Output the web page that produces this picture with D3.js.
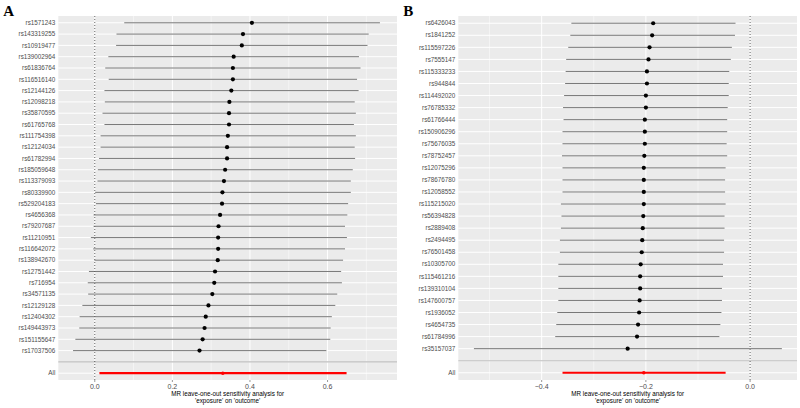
<!DOCTYPE html>
<html>
<head>
<meta charset="utf-8">
<script src="https://cdn.jsdelivr.net/npm/d3@7"></script>
<style>
body { margin: 0; background: #fff; }
svg text { font-family: "Liberation Sans", Arial, sans-serif; }
</style>
</head>
<body>
<div id="chart"></div>
<script>
var width = 800,
height = 408;

// Panel A data
var snpsA = ["rs1571243", "rs143319255", "rs10919477", "rs139002964", "rs61836764", "rs116516140",
    "rs12144126", "rs12098218", "rs35870595", "rs61765768", "rs111754398", "rs12124034",
    "rs61782994", "rs185059648", "rs113379093", "rs80339900", "rs529204183", "rs4656368",
    "rs79207687", "rs11210951", "rs116642072", "rs138942670", "rs12751442", "rs716954",
    "rs34571135", "rs12129128", "rs12404302", "rs149443973", "rs151155647", "rs17037506", "All"]
var bA = [0.405, 0.382, 0.379, 0.358, 0.356, 0.356, 0.352, 0.347, 0.346, 0.346, 0.343, 0.341,
    0.341, 0.336, 0.333, 0.329, 0.328, 0.323, 0.319, 0.318, 0.318, 0.317, 0.310, 0.308,
    0.303, 0.293, 0.286, 0.283, 0.278, 0.270, 0.330]
var loA = [0.076, 0.056, 0.055, 0.035, 0.027, 0.036, 0.025, 0.026, 0.020, 0.025, 0.015, 0.015,
    0.011, 0.008, 0.007, 0.001, 0.003, -0.003, -0.003, -0.010, -0.004, -0.001, -0.015, -0.018,
    -0.017, -0.032, -0.039, -0.040, -0.050, -0.056, 0.012]
var upA = [0.735, 0.706, 0.703, 0.681, 0.685, 0.676, 0.680, 0.670, 0.673, 0.668, 0.673, 0.670,
    0.671, 0.665, 0.660, 0.660, 0.653, 0.651, 0.645, 0.650, 0.645, 0.640, 0.635, 0.637,
    0.625, 0.620, 0.611, 0.608, 0.607, 0.597, 0.649]
var ticksA = [0, 0.2, 0.4, 0.6]
var minorA = [0.1, 0.3, 0.5, 0.7]

// Panel B data
var snpsB = ["rs6426043", "rs1841252", "rs115597226", "rs7555147", "rs115333233", "rs944844",
    "rs114492020", "rs76785332", "rs61766444", "rs150906296", "rs75676035", "rs78752457",
    "rs12075296", "rs78676780", "rs12058552", "rs115215020", "rs56394828", "rs2889408",
    "rs2494495", "rs76501458", "rs10305700", "rs115461216", "rs139310104", "rs147600757",
    "rs1936052", "rs4654735", "rs61784996", "rs35157037", "All"]
var bB = [-0.186, -0.188, -0.193, -0.195, -0.198, -0.198, -0.200, -0.200, -0.202, -0.202, -0.202,
    -0.203, -0.204, -0.204, -0.204, -0.204, -0.205, -0.206, -0.207, -0.208, -0.210, -0.211,
    -0.211, -0.212, -0.213, -0.215, -0.217, -0.235, -0.204]
var loB = [-0.343, -0.345, -0.349, -0.353, -0.354, -0.355, -0.357, -0.359, -0.358, -0.360, -0.360,
    -0.361, -0.360, -0.360, -0.360, -0.363, -0.362, -0.363, -0.365, -0.365, -0.368, -0.368,
    -0.368, -0.368, -0.370, -0.372, -0.374, -0.530, -0.360]
var upB = [-0.028, -0.029, -0.035, -0.037, -0.040, -0.041, -0.041, -0.043, -0.044, -0.044, -0.045,
    -0.044, -0.047, -0.048, -0.048, -0.047, -0.049, -0.049, -0.050, -0.050, -0.052, -0.052,
    -0.054, -0.054, -0.055, -0.057, -0.059, 0.061, -0.047]
var ticksB = [-0.4, -0.2, 0]
var minorB = [-0.5, -0.3, -0.1]

var svg = d3.select("#chart").append("svg")
.attr("width", width)
.attr("height", height)

function drawPanel(letter, left, right, xdomain, snps, b, lo, up, ticks, minor) {
    var top = 16,
    bottom = 380;

    var g = svg.append("g")

    var x = d3.scaleLinear().domain(xdomain).range([left, right])

    // rows: snps, then an empty row, then All
    var rows = snps.slice(0, snps.length - 1).concat(["", "All"])
    var y = d3.scalePoint().domain(rows).range([top, bottom]).padding(0.6)

    g.append("rect")
    .attr("x", left).attr("y", top)
    .attr("width", right - left).attr("height", bottom - top)
    .attr("fill", "#EBEBEB")

    g.selectAll(".minor")
    .data(minor)
    .join("line")
    .attr("x1", function (d) { return x(d) })
    .attr("x2", function (d) { return x(d) })
    .attr("y1", top).attr("y2", bottom)
    .attr("stroke", "#fff").attr("stroke-width", 0.5)

    g.selectAll(".vgrid")
    .data(ticks)
    .join("line")
    .attr("x1", function (d) { return x(d) })
    .attr("x2", function (d) { return x(d) })
    .attr("y1", top).attr("y2", bottom)
    .attr("stroke", "#fff").attr("stroke-width", 1)

    g.selectAll(".hgrid")
    .data(rows)
    .join("line")
    .attr("x1", left).attr("x2", right)
    .attr("y1", function (d) { return y(d) })
    .attr("y2", function (d) { return y(d) })
    .attr("stroke", "#fff").attr("stroke-width", 1)

    // grey line at the empty row
    g.append("line")
    .attr("x1", left).attr("x2", right)
    .attr("y1", y("")).attr("y2", y(""))
    .attr("stroke", "#BEBEBE").attr("stroke-width", 1.1)

    // dotted line at zero
    g.append("line")
    .attr("x1", x(0)).attr("x2", x(0))
    .attr("y1", top).attr("y2", bottom)
    .attr("stroke", "#000").attr("stroke-width", 0.6)
    .attr("stroke-dasharray", "1,2")

    var data = snps.map(function (s, i) {
        return { snp: s, b: b[i], lo: lo[i], up: up[i] }
    })

    g.selectAll(".ci")
    .data(data)
    .join("line")
    .attr("x1", function (d) { return x(d.lo) })
    .attr("x2", function (d) { return x(d.up) })
    .attr("y1", function (d) { return y(d.snp) })
    .attr("y2", function (d) { return y(d.snp) })
    .attr("stroke", function (d) { return d.snp === "All" ? "#FF0000" : "#555" })
    .attr("stroke-width", function (d) { return d.snp === "All" ? 2.2 : 0.8 })

    g.selectAll(".pt")
    .data(data)
    .join("circle")
    .attr("cx", function (d) { return x(d.b) })
    .attr("cy", function (d) { return y(d.snp) })
    .attr("r", function (d) { return d.snp === "All" ? 1.8 : 2.1 })
    .attr("fill", function (d) { return d.snp === "All" ? "#FF0000" : "#000" })

    // y labels
    g.selectAll(".ylab")
    .data(rows.filter(function (d) { return d !== "" }))
    .join("text")
    .attr("x", left - 3)
    .attr("y", function (d) { return y(d) })
    .attr("dy", "0.35em")
    .attr("text-anchor", "end")
    .attr("font-size", 6.3)
    .attr("fill", "#4D4D4D")
    .text(function (d) { return d })

    // x ticks
    g.selectAll(".xtick")
    .data(ticks)
    .join("line")
    .attr("x1", function (d) { return x(d) })
    .attr("x2", function (d) { return x(d) })
    .attr("y1", bottom).attr("y2", bottom + 2)
    .attr("stroke", "#333").attr("stroke-width", 0.5)

    g.selectAll(".xlab")
    .data(ticks)
    .join("text")
    .attr("x", function (d) { return x(d) })
    .attr("y", 388.5)
    .attr("text-anchor", "middle")
    .attr("font-size", 7)
    .attr("fill", "#4D4D4D")
    .text(function (d) { return d3.format(".1f")(d) })

    var cx = (left + right) / 2
    g.append("text")
    .attr("x", cx).attr("y", 396)
    .attr("text-anchor", "middle")
    .attr("font-size", 6.3)
    .attr("fill", "#000")
    .text("MR leave-one-out sensitivity analysis for")
    g.append("text")
    .attr("x", cx).attr("y", 403)
    .attr("text-anchor", "middle")
    .attr("font-size", 6.3)
    .attr("fill", "#000")
    .text("'exposure' on 'outcome'")

    g.append("text")
    .attr("x", left - 55)
    .attr("y", 16)
    .attr("font-family", "'Liberation Serif', 'DejaVu Serif', serif")
    .style("font-family", "'Liberation Serif', 'DejaVu Serif', serif")
    .attr("font-weight", "bold")
    .attr("font-size", 15)
    .attr("fill", "#000")
    .text(letter)
}

drawPanel("A", 58.3, 397, [-0.094, 0.779], snpsA, bA, loA, upA, ticksA, minorA)
drawPanel("B", 458.3, 797, [-0.56, 0.09], snpsB, bB, loB, upB, ticksB, minorB)
</script>
</body>
</html>
